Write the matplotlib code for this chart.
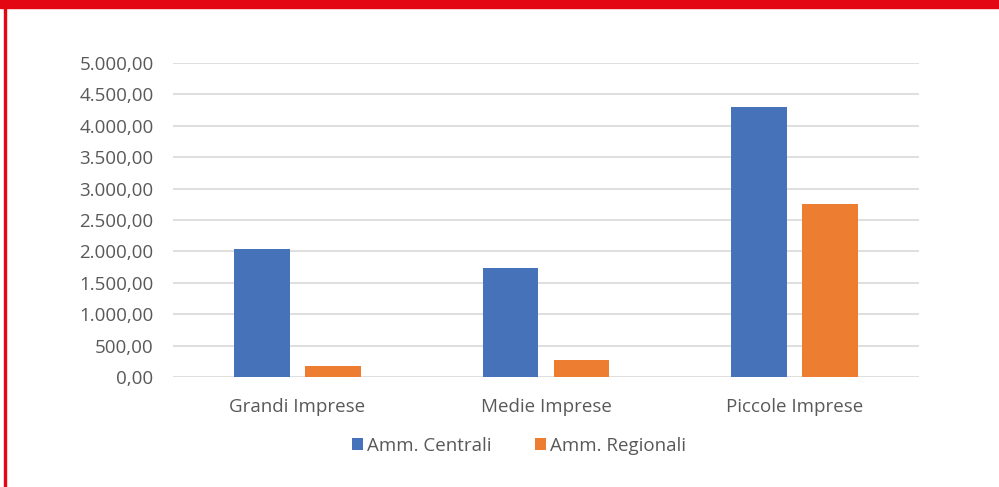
import numpy as np
import matplotlib.pyplot as plt
from matplotlib.patches import Rectangle
from matplotlib.ticker import FuncFormatter

categories = ["Grandi Imprese", "Medie Imprese", "Piccole Imprese"]
series_names = ["Amm. Centrali", "Amm. Regionali"]
centrali = [2045, 1738, 4300]
regionali = [175, 270, 2750]
colors = ["#4672B9", "#ED7D31"]

plt.rcParams["font.family"] = ["Open Sans", "DejaVu Sans"]
text_color = "#595959"
fs = 13.5


def it_fmt(v, pos):
    s = f"{v:,.2f}"
    return s.replace(",", "X").replace(".", ",").replace("X", ".")


fig = plt.figure(figsize=(9.99, 4.87), dpi=100)
ax = fig.add_axes([173 / 999, 1 - 377 / 487, (919 - 173) / 999, (377 - 63) / 487])

x = np.arange(len(categories))
w = 0.225
off = 0.1427
ax.bar(x - off, centrali, w, color=colors[0], label=series_names[0], zorder=3)
ax.bar(x + off, regionali, w, color=colors[1], label=series_names[1], zorder=3)

ax.set_xlim(-0.5, 2.5)
ax.set_ylim(0, 5000)
ax.set_yticks(np.arange(0, 5001, 500))
ax.yaxis.set_major_formatter(FuncFormatter(it_fmt))
ax.set_xticks(x)
ax.set_xticklabels(categories)
ax.grid(axis="y", color="#D9D9D9", linewidth=1.2, zorder=0)
for s in ax.spines.values():
    s.set_visible(False)
ax.tick_params(length=0, colors=text_color, labelsize=fs)
ax.tick_params(axis="y", pad=14)
ax.tick_params(axis="x", pad=15)

leg = fig.legend(loc="center", bbox_to_anchor=(519 / 999, 1 - 446 / 487), ncol=2, frameon=False,
                 fontsize=fs, handlelength=0.6, handleheight=0.6, handletextpad=0.2,
                 columnspacing=2.3, labelcolor=text_color)

# red frame
fig.patches.append(Rectangle((0, 1 - 8 / 487), 1, 8 / 487, transform=fig.transFigure,
                             color="#E30613", zorder=10))
fig.patches.append(Rectangle((4 / 999, 0), 2 / 999, 1, transform=fig.transFigure,
                             color="#E30613", zorder=10))

fig.savefig("out.png", dpi=100)
